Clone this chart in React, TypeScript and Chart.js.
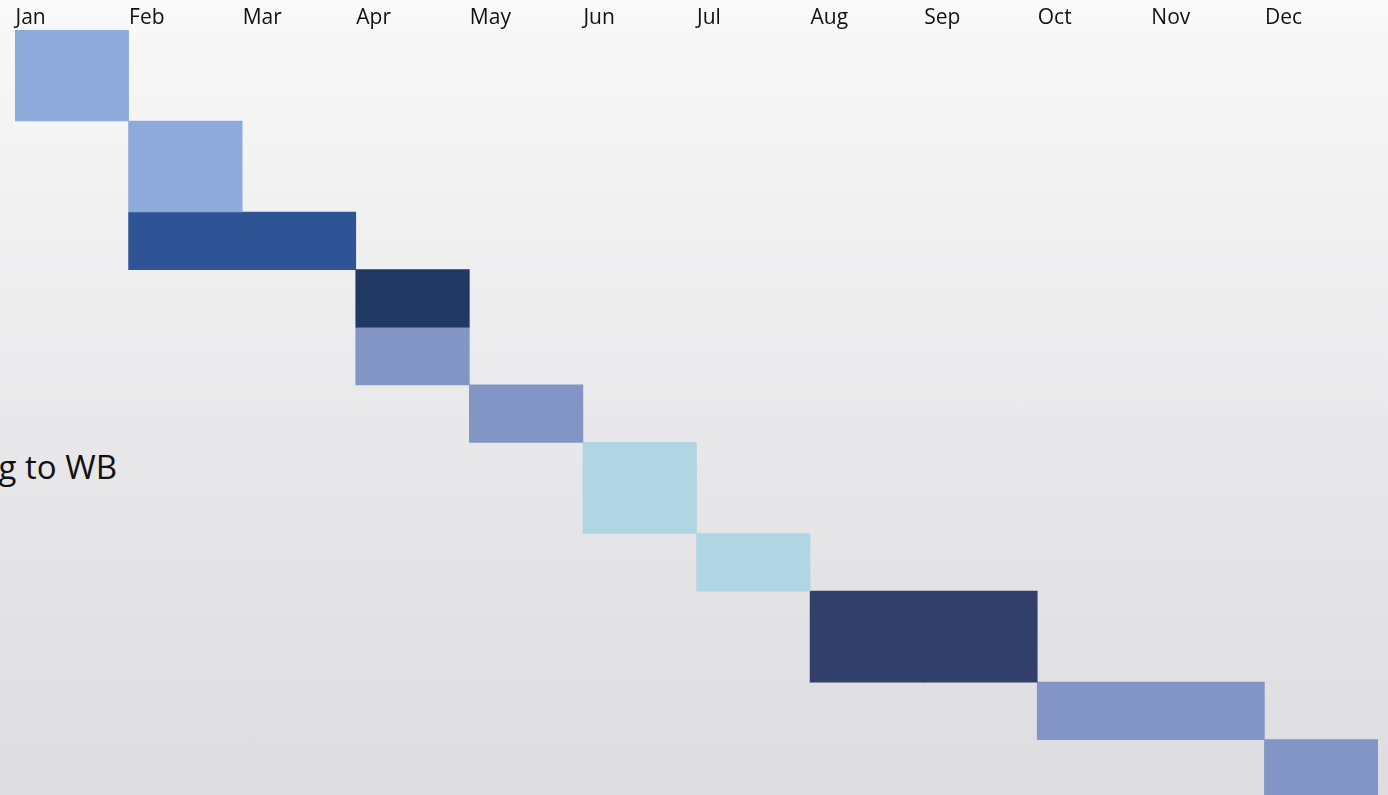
import React, { useEffect, useRef } from "react";
import { Chart, registerables } from "chart.js";

Chart.register(...registerables);

const months = ["Jan", "Feb", "Mar", "Apr", "May", "Jun", "Jul", "Aug", "Sep", "Oct", "Nov", "Dec"];

// Gantt tasks: start month index, end month index (inclusive), row weight
const taskStart = [0, 1, 1, 3, 3, 4, 5, 6, 7, 9, 11];
const taskEnd = [0, 1, 2, 3, 3, 4, 5, 6, 8, 10, 11];
const rowSpan = [1.58, 1.58, 1, 1, 1, 1, 1.58, 1, 1.58, 1, 1];
const taskColors = [
  "#8EAADB",
  "#8EAADB",
  "#2F5496",
  "#203864",
  "#8395C5",
  "#8395C5",
  "#B0D5E3",
  "#B0D5E3",
  "#323F6A",
  "#8395C5",
  "#8395C5",
];
const visibleRows = 13.28;
const sideLabel = "Reporting to WB";

const monthHeaderPlugin = {
  id: "monthHeader",
  afterDraw(chart: any) {
    const xs = chart.scales.x;
    const ctx = chart.ctx;
    const half = (xs.getPixelForValue(1) - xs.getPixelForValue(0)) / 2;
    ctx.save();
    ctx.font = "21px 'Open Sans'";
    ctx.fillStyle = "#111111";
    ctx.textAlign = "left";
    ctx.textBaseline = "alphabetic";
    months.forEach((m, i) => {
      ctx.fillText(m, xs.getPixelForValue(i) - half + 0.5, chart.chartArea.top - 6);
    });
    ctx.restore();
  },
};

export default function App() {
  const canvasRef = useRef<HTMLCanvasElement | null>(null);

  useEffect(() => {
    if (!canvasRef.current) return;
    const tops: number[] = [];
    let acc = 0;
    rowSpan.forEach((s) => {
      tops.push(acc);
      acc += s;
    });
    const datasets = taskStart.map((st, t) => ({
      label: "Task " + (t + 1),
      data: months.map((_, i) => (i >= st && i <= taskEnd[t] ? [tops[t], tops[t] + rowSpan[t]] : null)),
      backgroundColor: taskColors[t],
      borderWidth: 0,
      grouped: false,
      barPercentage: 1,
      categoryPercentage: 1,
    }));

    const chart = new Chart(canvasRef.current, {
      type: "bar",
      data: { labels: months, datasets: datasets as any },
      options: {
        animation: false,
        responsive: false,
        maintainAspectRatio: false,
        layout: { padding: { left: 15, right: 10, top: 30, bottom: 0 } },
        plugins: { legend: { display: false }, tooltip: { enabled: false } },
        scales: {
          x: { type: "category", display: false, offset: true },
          y: {
            type: "linear",
            display: false,
            reverse: true,
            min: 0,
            max: visibleRows,
          },
        },
      } as any,
      plugins: [monthHeaderPlugin],
    });
    return () => chart.destroy();
  }, []);

  return (
    <div
      style={{
        position: "fixed",
        left: 0,
        top: 0,
        width: 1388,
        height: 795,
        overflow: "hidden",
        background: "linear-gradient(180deg, #F9F9F9 0%, #E8E8EA 55%, #DDDDE1 100%)",
      }}
    >
      <span
        style={{
          position: "absolute",
          right: 1388 - 117,
          top: 451,
          fontFamily: "'Open Sans'",
          fontSize: 33,
          lineHeight: "32px",
          color: "#111111",
          whiteSpace: "nowrap",
        }}
      >
        {sideLabel}
      </span>
      <canvas ref={canvasRef} width={1388} height={795} style={{ position: "absolute", left: 0, top: 0 }} />
    </div>
  );
}
